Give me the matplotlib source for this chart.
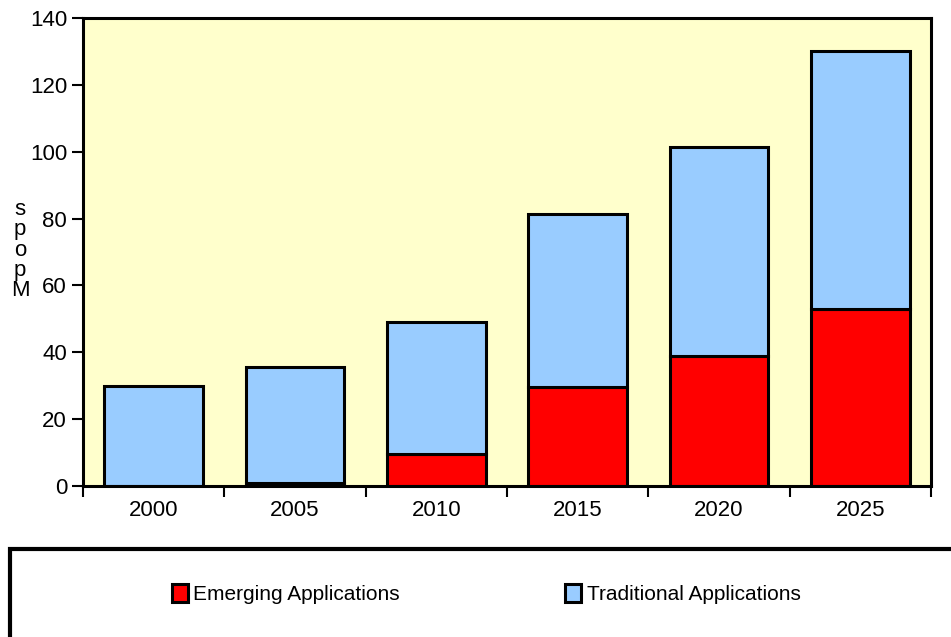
import matplotlib.pyplot as plt
import matplotlib.patches as mpatches
import numpy as np

years = ['2000', '2005', '2010', '2015', '2020', '2025']
emerging = [0, 1, 9.5, 29.5, 39, 53]
traditional = [30, 34.5, 39.5, 52, 62.5, 77]
yticks = [0, 20, 40, 60, 80, 100, 120, 140]

plt.rcParams['font.family'] = ['Liberation Sans Narrow', 'Liberation Sans', 'DejaVu Sans']

fig = plt.figure(figsize=(9.51, 6.37), dpi=100)
ax = fig.add_axes([83 / 951, 1 - 486 / 637, (931 - 83) / 951, (486 - 18) / 637])
ax.set_facecolor('#ffffcc')

x = np.arange(len(years))
bars_e = ax.bar(x, emerging, width=0.7, color='#ff0000', edgecolor='black', linewidth=2.2)
bars_t = ax.bar(x, traditional, width=0.7, bottom=emerging, color='#99ccff',
                edgecolor='black', linewidth=2.2)

ax.set_xlim(-0.5, len(years) - 0.5)
ax.set_ylim(0, 140)
ax.set_yticks(yticks)
ax.tick_params(axis='y', labelsize=16, length=8, width=1.5, direction='out')
ax.set_xticks(np.arange(len(years) + 1) - 0.5)
ax.set_xticklabels([])
ax.set_xticks(x, minor=True)
ax.set_xticklabels(years, minor=True, fontsize=16)
ax.tick_params(axis='x', which='major', length=8, width=1.5, direction='out')
ax.tick_params(axis='x', which='minor', length=0, pad=10)
for s in ax.spines.values():
    s.set_linewidth(2.2)

# stacked vertical axis label
fig.text(20 / 951, 1 - 250 / 637, 's\np\no\np\nM', fontsize=16, ha='center', va='center',
         linespacing=0.95)

# legend frame along the bottom
frame = mpatches.Rectangle((10 / 951, -0.05), 1.1, (637 - 549) / 637 + 0.05,
                           transform=fig.transFigure, fill=False, edgecolor='black',
                           linewidth=3, clip_on=False)
fig.patches.append(frame)
fig.legend([bars_e[0], bars_t[0]], ['Emerging Applications', 'Traditional Applications'],
           loc='center', bbox_to_anchor=(486 / 951, 1 - 594 / 637), ncol=2, frameon=False,
           fontsize=15, handlelength=0.8, handleheight=1.0, handletextpad=0.25,
           columnspacing=7.9)

fig.savefig('out.png', dpi=100)
